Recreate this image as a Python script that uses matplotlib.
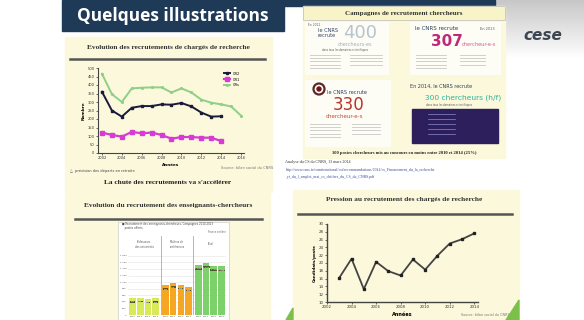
import numpy as np
import matplotlib.pyplot as plt
from matplotlib.patches import Rectangle, Circle, Polygon

# ---- data ----
years_cr = [2002, 2003, 2004, 2005, 2006, 2007, 2008, 2009, 2010, 2011, 2012, 2013, 2014]
cr2 = [360, 250, 214, 266, 276, 276, 286, 284, 294, 274, 238, 214, 216]
cr1 = [120, 106, 96, 124, 116, 120, 106, 84, 94, 94, 90, 90, 70]
years_crs = [2002, 2003, 2004, 2005, 2006, 2007, 2008, 2009, 2010, 2011, 2012, 2013, 2014, 2015, 2016]
crs = [466, 346, 300, 380, 384, 386, 386, 356, 380, 356, 314, 296, 286, 274, 220]

years_press = [2003, 2004, 2005, 2006, 2007, 2008, 2009, 2010, 2011, 2012, 2013, 2014]
pression = [16.2, 21.1, 13.3, 20.3, 17.9, 16.8, 20.9, 18.3, 21.9, 25.0, 26.1, 27.6]

ec_years = ['2010', '2011', '2012', '2013']
ec_groups = ['Professeurs\ndes universités', 'Maîtres de\nconférences', 'Total']
ec_pr = [520, 530, 500, 510]
ec_mcf = [900, 970, 925, 860]
ec_tot = [1520, 1570, 1495, 1475]

W, H = 584, 320
fig = plt.figure(figsize=(W / 100, H / 100), dpi=100)


def px_axes(x0, y0, x1, y1):
    return fig.add_axes([x0 / W, 1 - y1 / H, (x1 - x0) / W, (y1 - y0) / H])


# background canvas in pixel coordinates
bg = fig.add_axes([0, 0, 1, 1])
bg.set_xlim(0, W)
bg.set_ylim(H, 0)
bg.axis('off')
grad = np.linspace(0.78, 1.0, 60).reshape(-1, 1)
bg.imshow(grad, extent=(490, W, 60, 0), cmap='gray', vmin=0, vmax=1, aspect='auto', zorder=0)
bg.add_patch(Rectangle((0, 60), W, H, color='white', zorder=0))
bg.add_patch(Rectangle((280, 0), 215, 6, color='#1f3a56', zorder=1))

# title bar
bg.add_patch(Rectangle((62, 0), 222, 31, color='#1f3a56', zorder=2))
bg.text(173, 16, 'Quelques illustrations', color='white', fontsize=12.5, fontweight='bold',
        family='Open Sans', ha='center', va='center', zorder=3)

# cese logo
bg.text(543, 36, 'cese', color='#3c4650', fontsize=11, fontweight='bold', style='italic',
        family='DejaVu Sans', ha='center', va='center', zorder=3)

yellow = '#fbf8dc'
serif = 'Liberation Serif'

# ---- panel 1 ----
bg.add_patch(Rectangle((65, 37), 207, 155, color=yellow, zorder=1))
bg.text(168, 47, 'Evolution des recrutements de chargés de recherche', family=serif,
        fontsize=5.3, fontweight='bold', ha='center', va='center', color='#333333', zorder=3)
bg.plot([70, 265], [59, 59], color='#555555', lw=1.8, zorder=3)
bg.text(70, 171, '△  prévision des départs en retraite', fontsize=2.6, color='#444444', va='center', zorder=3)
bg.text(247, 168, 'Source: bilan social du CNRS', fontsize=2.6, color='#777777', ha='center', va='center', zorder=3)
bg.text(168, 183, "La chute des recrutements va s'accélérer", family=serif, fontsize=5.3,
        fontweight='bold', ha='center', va='center', color='#222222', zorder=3)

ax1 = px_axes(98, 68, 244, 153)
ax1.set_facecolor(yellow)
ax1.plot(years_cr, cr2, color='#1a1a3a', lw=1.4, marker='s', ms=1.8, label='CR2')
ax1.plot(years_cr, cr1, color='#d63bd6', lw=1.6, marker='s', ms=2.2, label='CR1')
ax1.plot(years_crs, crs, color='#8fcf88', lw=1.4, marker='.', ms=2.5, label='CRs')
ax1.set_xlim(2001.6, 2016.3)
ax1.set_ylim(0, 500)
ax1.set_xticks(range(2002, 2017, 2))
ax1.set_yticks(range(0, 501, 50))
ax1.tick_params(labelsize=2.6, length=1.5, width=0.5, pad=1, colors='#333333')
for s in ['top', 'right']:
    ax1.spines[s].set_visible(False)
for s in ['left', 'bottom']:
    ax1.spines[s].set_color('#444444')
    ax1.spines[s].set_linewidth(0.8)
ax1.set_xlabel('Années', fontsize=3, fontweight='bold', labelpad=1.5)
ax1.set_ylabel('Nombre', fontsize=3, fontweight='bold', labelpad=1.5)
ax1.legend(loc='upper right', fontsize=2.6, frameon=False, handlelength=1.5, borderpad=0.3,
           labelspacing=0.5, bbox_to_anchor=(0.99, 0.99))

# ---- panel 2: recruitment campaigns ----
bg.add_patch(Rectangle((303, 6), 202, 142, color=yellow, zorder=1))
bg.add_patch(Rectangle((303, 6), 202, 14, facecolor='#f8f4c8', edgecolor='#bbbbbb', lw=0.5, zorder=2))
bg.text(404, 13, 'Campagnes de recrutement chercheurs', family=serif, fontsize=5,
        fontweight='bold', ha='center', va='center', color='#333333', zorder=3)
# poster 2012
bg.add_patch(Rectangle((305, 22), 83, 52, color='#fdfdf5', zorder=2))
bg.text(308, 25, 'En 2012', fontsize=2.2, color='#666666', va='center', zorder=3)
bg.text(318, 33, 'le CNRS\nrecrute', fontsize=3.6, color='#34456a', va='center', linespacing=0.9, zorder=3)
bg.text(343, 33, '400', fontsize=13, color='#b7c3d0', va='center', zorder=3)
bg.text(338, 44, 'chercheurs-es', fontsize=3.5, color='#a0aebd', va='center', zorder=3)
bg.text(322, 50, 'dans tous les domaines scientifiques', fontsize=1.8, color='#555555', va='center', zorder=3)
# poster 2013
bg.add_patch(Rectangle((410, 22), 90, 52, color='#fdfdf5', zorder=2))
bg.text(415, 29, 'le CNRS recrute', fontsize=4, color='#2c3e60', va='center', zorder=3)
bg.text(480, 29, 'En 2013', fontsize=2.5, color='#555555', va='center', zorder=3)
bg.text(431, 42, '307', fontsize=11, color='#c0287a', fontweight='bold', va='center', zorder=3)
bg.text(462, 44, 'chercheur-e-s', fontsize=3.6, color='#d05a98', va='center', zorder=3)
# poster 2011
bg.add_patch(Rectangle((305, 80), 85, 66, color='#fdfdf5', zorder=2))
bg.add_patch(Circle((319, 89), 5.5, facecolor='white', edgecolor='#5a2a2a', lw=1.6, zorder=3))
bg.add_patch(Circle((319, 89), 2, color='#7a1010', zorder=4))
bg.text(327, 92, 'le CNRS recrute', fontsize=3.6, color='#2c3e60', va='center', zorder=3)
bg.text(333, 105, '330', fontsize=12, color='#b5352d', va='center', zorder=3)
bg.text(326, 116, 'chercheur-e-s', fontsize=4, color='#c0453a', va='center', zorder=3)
# poster 2014
bg.add_patch(Rectangle((405, 80), 96, 66, color=yellow, zorder=2))
bg.text(410, 86, 'En 2014, le CNRS recrute', fontsize=3.5, color='#2c3e60', va='center', zorder=3)
bg.text(425, 98, '300 chercheurs (h/f)', fontsize=5.4, color='#2bb59a', va='center', zorder=3)
bg.text(426, 105, 'dans tous les domaines scientifiques', fontsize=1.8, color='#555555', va='center', zorder=3)
bg.add_patch(Rectangle((412, 109), 86, 34, color='#2d1f5c', zorder=3))
# grey list lines
for (x0, y0, w, n) in [(310, 55, 30, 5), (350, 55, 32, 4), (416, 55, 30, 5), (460, 55, 25, 4),
                       (310, 124, 30, 5), (352, 124, 28, 4)]:
    for k in range(n):
        bg.plot([x0, x0 + w], [y0 + 3.2 * k, y0 + 3.2 * k], color='#c8c8c8', lw=0.6, zorder=3)
for k in range(5):
    bg.plot([428, 455], [114 + 5 * k, 114 + 5 * k], color='#8a8ad0', lw=0.5, zorder=4)

bg.add_patch(Rectangle((303, 148), 202, 10, color=yellow, zorder=1))
bg.text(404, 153, '100 postes chercheurs mis au concours en moins entre 2010 et 2014 (25%)',
        family=serif, fontsize=3.3, fontweight='bold', ha='center', va='center', color='#222222', zorder=3)
bg.text(285, 162, 'Analyse du CS du CNRS, 13 mars 2014', family=serif, fontsize=3, color='#333333',
        va='center', zorder=3)
bg.text(285, 170, 'http://www.cnrs.fr/comitenational/csi/recommandations/2014/cs_Financement_du_la_recherche',
        family=serif, fontsize=2.8, color='#3a4a9a', va='center', zorder=3)
bg.text(285, 177, '_et_du_l_emploi_mai_cs_chiffres_du_CS_du_CNRS.pdf', family=serif, fontsize=2.8,
        color='#3a4a9a', va='center', zorder=3)

# ---- panel 3: enseignants-chercheurs ----
bg.add_patch(Rectangle((65, 193), 205, 130, color=yellow, zorder=1))
bg.text(168, 205, 'Evolution du recrutement des enseignants-chercheurs', family=serif,
        fontsize=5.3, fontweight='bold', ha='center', va='center', color='#333333', zorder=3)
bg.plot([75, 262], [219, 219], color='#555555', lw=1.8, zorder=3)
bg.add_patch(Rectangle((118, 222), 111, 100, facecolor='white', edgecolor='#cccccc', lw=0.5, zorder=2))
bg.text(122, 226, '■ Recrutement des enseignants-chercheurs, Campagnes 2010-2013\n   postes offerts',
        fontsize=1.9, color='#444444', va='center', zorder=3)
bg.text(226, 232, 'France entière', fontsize=1.8, color='#666666', ha='right', va='center', zorder=3)

ax3 = px_axes(128, 236, 226, 315)
ax3.set_facecolor('white')
vals = ec_pr + ec_mcf + ec_tot
cols = ['#d8ea5a'] * 4 + ['#f5a623'] * 4 + ['#7dd16a'] * 4
xpos = np.arange(len(vals)) + np.repeat([0, 0.3, 0.6], 4)
ax3.bar(xpos, vals, width=0.85, color=cols, edgecolor='none')
for x, v in zip(xpos, vals):
    ax3.text(x, v - 120, f'{v:,}'.replace(',', ' '), fontsize=1.6, color='white', ha='center', va='center',
             bbox=dict(boxstyle='square,pad=0.15', fc='#555533', ec='none'))
ax3.set_xlim(-0.6, xpos[-1] + 0.6)
ax3.set_ylim(0, 2400)
ax3.set_yticks(range(0, 1801, 200))
ax3.set_yticklabels([f'{v:,}'.replace(',', ' ') for v in range(0, 1801, 200)])
ax3.set_xticks(xpos)
ax3.set_xticklabels(ec_years * 3)
ax3.tick_params(labelsize=1.7, length=0, pad=1, colors='#555555')
ax3.grid(axis='y', color='#e4e4e4', lw=0.4)
ax3.set_axisbelow(True)
for s in ax3.spines.values():
    s.set_visible(False)
for gi, g in enumerate(ec_groups):
    ax3.text(xpos[gi * 4:(gi + 1) * 4].mean(), 2150, g, fontsize=1.8, color='#555555',
             ha='center', va='center')
    if gi > 0:
        ax3.axvline((xpos[gi * 4 - 1] + xpos[gi * 4]) / 2, color='#999999', lw=0.5)

# ---- panel 4: pression ----
bg.add_patch(Rectangle((293, 190), 226, 133, color=yellow, zorder=1))
bg.text(404, 200, 'Pression au recrutement des chargés de recherche', family=serif,
        fontsize=5.3, fontweight='bold', ha='center', va='center', color='#333333', zorder=3)
bg.plot([298, 512], [214, 214], color='#555555', lw=1.8, zorder=3)
bg.text(485, 315, 'Source: bilan social du CNRS', fontsize=2.4, color='#777777', ha='center',
        va='center', zorder=3)

ax4 = px_axes(327, 224, 478, 302)
ax4.set_facecolor(yellow)
ax4.plot(years_press, pression, color='#444444', lw=1.3, marker='s', ms=1.8, mfc='#222222', mec='#222222')
ax4.set_xlim(2002, 2014.3)
ax4.set_ylim(10, 30)
ax4.set_xticks(range(2002, 2015, 2))
ax4.set_yticks(range(10, 31, 2))
ax4.tick_params(labelsize=2.8, length=1.5, width=0.5, pad=1, colors='#333333')
for s in ['top', 'right']:
    ax4.spines[s].set_visible(False)
for s in ['left', 'bottom']:
    ax4.spines[s].set_color('#444444')
    ax4.spines[s].set_linewidth(1.0)
ax4.set_xlabel('Années', fontsize=3.6, fontweight='bold', labelpad=2)
ax4.set_ylabel('Candidats/poste', fontsize=3, fontweight='bold', labelpad=1.5)

# green decorations
bg.add_patch(Polygon([[506, 320], [519, 300], [519, 320]], closed=True, color='#7cc04a', zorder=4))
bg.add_patch(Polygon([[286, 320], [293, 308], [293, 320]], closed=True, color='#7cc04a', zorder=4))

fig.savefig('out.png', dpi=100)
